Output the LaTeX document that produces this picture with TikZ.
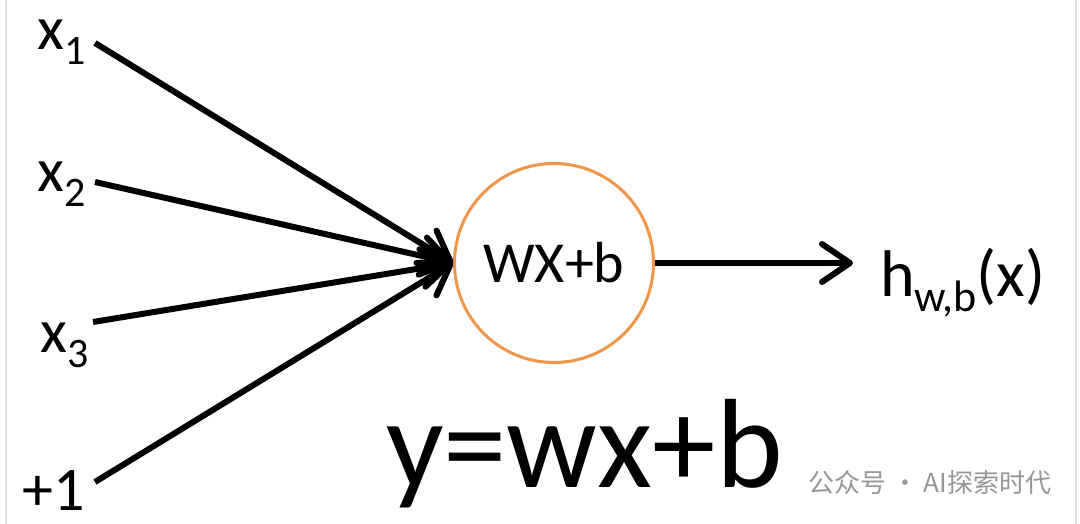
\documentclass[tikz,border=0pt]{standalone}
\usepackage{fontspec}
\setmainfont{Carlito}
\newfontfamily\cjk{Noto Sans CJK SC}
\usetikzlibrary{arrows.meta}
\definecolor{nodeorange}{RGB}{240,150,75}
\definecolor{wmgray}{RGB}{150,150,150}
\definecolor{framegray}{RGB}{225,225,225}
\newcommand{\labsub}[2]{#1\raisebox{-15pt}{\fontsize{42}{42}\selectfont #2}}
\begin{document}
\begin{tikzpicture}[x=1pt,y=-1pt,
  lab/.style={inner sep=0pt,anchor=base west,font=\fontsize{62}{62}\selectfont},
  inarrow/.style={line width=6pt,-{Straight Barb[length=28pt,width=38pt,line width=6pt,round]}},
  neuron/.style={circle,draw=nodeorange,line width=3pt,minimum size=199pt,inner sep=0pt,font=\fontsize{58}{58}\selectfont}]
\useasboundingbox (0,0) rectangle (1080,524);
\fill[white] (0,0) rectangle (1080,524);
\draw[framegray,line width=1.5pt] (6,0) -- (6,524);
\draw[framegray,line width=1.5pt] (1076,0) -- (1076,524);
% inputs
\node[lab] (x1) at (37,50) {\labsub{x}{1}};
\node[lab] (x2) at (37,192) {\labsub{x}{2}};
\node[lab] (x3) at (40,352) {\labsub{x}{3}};
\node[lab] (p1) at (22,510) {+1};
% neuron
\node[neuron] (c) at (554,263) {WX+b};
% start points of input lines
\coordinate (s1) at (95,43);
\coordinate (s2) at (95,182);
\coordinate (s3) at (93,322);
\coordinate (s4) at (95,482);
\draw[inarrow] (s1) -- (c.west);
\draw[inarrow] (s2) -- (c.west);
\draw[inarrow] (s3) -- (c.west);
\draw[inarrow] (s4) -- (c.west);
% output
\coordinate (o) at (853,263);
\draw[inarrow] (c.east) -- (o);
\node[lab,font=\fontsize{66}{66}\selectfont] (h) at (880,296) {h\raisebox{-15pt}{\fontsize{44}{44}\selectfont w,b}(x)};
% equation
\node[inner sep=0pt,anchor=base west,font=\fontsize{127}{127}\selectfont] (eq) at (386,487) {y=wx+b};
% watermark
\node[inner sep=0pt,anchor=base west,text=wmgray,font=\cjk\fontsize{26}{26}\selectfont] (wm) at (808,492) {公众号 · AI探索时代};
\end{tikzpicture}
\end{document}
